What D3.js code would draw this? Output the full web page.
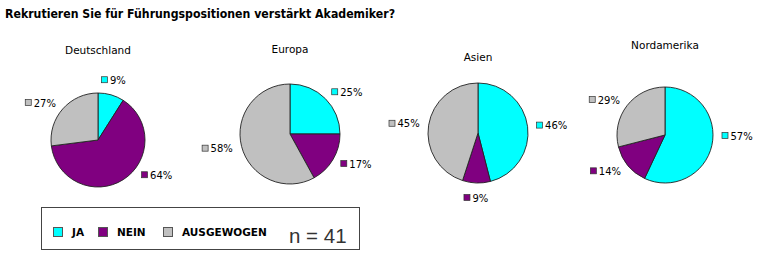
<!DOCTYPE html>
<html><head><meta charset="utf-8">
<script src="https://cdn.jsdelivr.net/npm/d3@7/dist/d3.min.js"></script>
<style>
html,body{margin:0;padding:0;background:#fff;}
svg{display:block;}
</style></head>
<body>
<script>
// ---- data ----
const title = "Rekrutieren Sie für Führungspositionen verstärkt Akademiker?";
const regions = ["Deutschland", "Europa", "Asien", "Nordamerika"];
const categories = ["JA", "NEIN", "AUSGEWOGEN"];
const jaValues = [9, 25, 46, 57];
const neinValues = [64, 17, 9, 14];
const ausgewogenValues = [27, 58, 45, 29];
const sampleNote = "n = 41";

// ---- layout ----
const W = 762, H = 253;
const colors = ["#00FFFF", "#800080", "#C0C0C0"];
const centersX = [98, 290, 478, 665];
const centersY = [140, 134, 133, 135];
const radii = [47, 50, 50, 48];
const titleY = [54, 53, 61, 49];
// label angle overrides in degrees (null = slice mid-angle), per region per category
const labelAngle = [[null, 129, null], [null, null, null], [null, null, null], [91, null, null]];

const svg = d3.select("body").append("svg").attr("width", W).attr("height", H);

svg.append("text")
  .attr("x", 5).attr("y", 18)
  .attr("font-family", "DejaVu Sans, Verdana, sans-serif")
  .attr("font-weight", "bold")
  .attr("font-size", 13)
  .attr("textLength", 390)
  .attr("lengthAdjust", "spacingAndGlyphs")
  .attr("fill", "#000")
  .text(title);

const color = d3.scaleOrdinal().domain(categories).range(colors);
const pie = d3.pie().sort(null).value(d => d.value);

regions.forEach((reg, i) => {
  const data = [
    {cat: categories[0], value: jaValues[i]},
    {cat: categories[1], value: neinValues[i]},
    {cat: categories[2], value: ausgewogenValues[i]}
  ];
  const r = radii[i];
  const g = svg.append("g").attr("transform", `translate(${centersX[i]},${centersY[i]})`);
  const arc = d3.arc().innerRadius(0).outerRadius(r);
  const arcs = pie(data);
  g.selectAll("path").data(arcs).enter().append("path")
    .attr("d", arc)
    .attr("fill", d => color(d.data.cat))
    .attr("stroke", "#222")
    .attr("stroke-width", 0.9)
    .attr("stroke-linejoin", "round");

  svg.append("text")
    .attr("x", centersX[i]).attr("y", titleY[i])
    .attr("text-anchor", "middle")
    .attr("font-family", "DejaVu Sans, Verdana, sans-serif")
    .attr("font-size", 10.5)
    .attr("fill", "#000")
    .text(reg);

  arcs.forEach((a, k) => {
    let mid = (a.startAngle + a.endAngle) / 2;
    if (labelAngle[i][k] !== null) mid = labelAngle[i][k] * Math.PI / 180;
    const s = Math.sin(mid), c = -Math.cos(mid);
    const rr = r + 9;
    const px = s * rr, py = c * rr;
    const lg = g.append("g");
    lg.append("rect")
      .attr("x", 0).attr("y", -3.5).attr("width", 6).attr("height", 6)
      .attr("fill", color(a.data.cat))
      .attr("stroke", "#333").attr("stroke-width", 0.7);
    const t = lg.append("text")
      .attr("x", 8.5).attr("y", 0)
      .attr("dy", "0.36em")
      .attr("font-family", "DejaVu Sans, Verdana, sans-serif")
      .attr("font-size", 10)
      .attr("fill", "#000")
      .text(a.data.value + "%");
    const w = 8.5 + t.node().getComputedTextLength();
    let lx, ly = py;
    if (s > 0.35) { lx = px; }
    else if (s < -0.35) { lx = px - w; }
    else { lx = px - w / 2; ly = py + (c > 0 ? 6 : -6); }
    lg.attr("transform", `translate(${lx},${ly})`);
  });
});

// ---- legend ----
const lgd = svg.append("g");
lgd.append("rect")
  .attr("x", 41.5).attr("y", 207.5).attr("width", 318).attr("height", 42)
  .attr("fill", "#fff").attr("stroke", "#444").attr("stroke-width", 1);
const legendX = [53, 98, 163];
categories.forEach((cat, k) => {
  lgd.append("rect")
    .attr("x", legendX[k] + 0.5).attr("y", 227.5).attr("width", 9).attr("height", 9)
    .attr("fill", color(cat)).attr("stroke", "#555").attr("stroke-width", 1);
  lgd.append("text")
    .attr("x", legendX[k] + 19).attr("y", 232)
    .attr("dy", "0.36em")
    .attr("font-family", "DejaVu Sans, Verdana, sans-serif")
    .attr("font-weight", "bold")
    .attr("font-size", 10.5)
    .attr("fill", "#000")
    .text(cat);
});
lgd.append("text")
  .attr("x", 289).attr("y", 243)
  .attr("font-family", "Liberation Sans, Arial, sans-serif")
  .attr("font-size", 20.5)
  .attr("fill", "#333")
  .text(sampleNote);
</script>
</body></html>
